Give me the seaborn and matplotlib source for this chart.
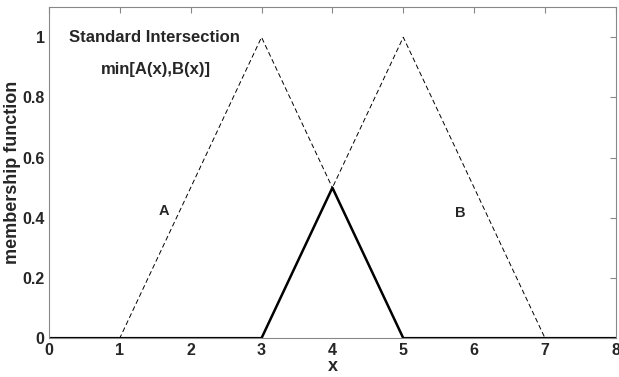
import matplotlib
matplotlib.use("Agg")
import matplotlib.pyplot as plt
import seaborn as sns
import numpy as np
import pandas as pd

sns.set_style("white")
plt.rcParams['font.family'] = ['Liberation Sans', 'DejaVu Sans']

# data
x_A = [0, 1, 3, 5, 8]
A = [0, 0, 1, 0, 0]
x_B = [0, 3, 5, 7, 8]
B = [0, 0, 1, 0, 0]
x_min = [0, 3, 4, 5, 8]
min_AB = [0, 0, 0.5, 0, 0]

fig = plt.figure(figsize=(6.19, 3.77), dpi=100)
ax = fig.add_axes([0.079, 0.103, 0.916, 0.878])

sns.lineplot(x=x_A, y=A, ax=ax, color='black', linewidth=0.7, linestyle=(0, (5, 3)))
sns.lineplot(x=x_B, y=B, ax=ax, color='black', linewidth=0.7, linestyle=(0, (5, 3)))
sns.lineplot(x=x_min, y=min_AB, ax=ax, color='black', linewidth=1.8)

ax.set_xlim(0, 8)
ax.set_ylim(0, 1.1)
ax.set_xticks(range(0, 9))
ax.set_yticks([0, 0.2, 0.4, 0.6, 0.8, 1])
ax.set_yticklabels(['0', '0.2', '0.4', '0.6', '0.8', '1'])
ax.tick_params(direction='in', top=True, right=True, length=4, color='#888888',
               labelsize=11.5, pad=3)
ax.tick_params(axis='x', pad=3.5)
for lbl in ax.get_xticklabels() + ax.get_yticklabels():
    lbl.set_fontweight('bold')
for s in ax.spines.values():
    s.set_color('#888888')
    s.set_linewidth(0.8)

ax.set_xlabel('x', fontsize=13, fontweight='bold', labelpad=0)
ax.set_ylabel('membership function', fontsize=13, fontweight='bold', labelpad=1)

ax.text(1.49, 1.0, 'Standard Intersection', fontsize=12, fontweight='bold', ha='center', va='center')
ax.text(1.51, 0.893, 'min[A(x),B(x)]', fontsize=12, fontweight='bold', ha='center', va='center')
ax.text(1.63, 0.423, 'A', fontsize=10.5, fontweight='bold', ha='center', va='center')
ax.text(5.81, 0.417, 'B', fontsize=10.5, fontweight='bold', ha='center', va='center')

fig.savefig('out.png', dpi=100)
